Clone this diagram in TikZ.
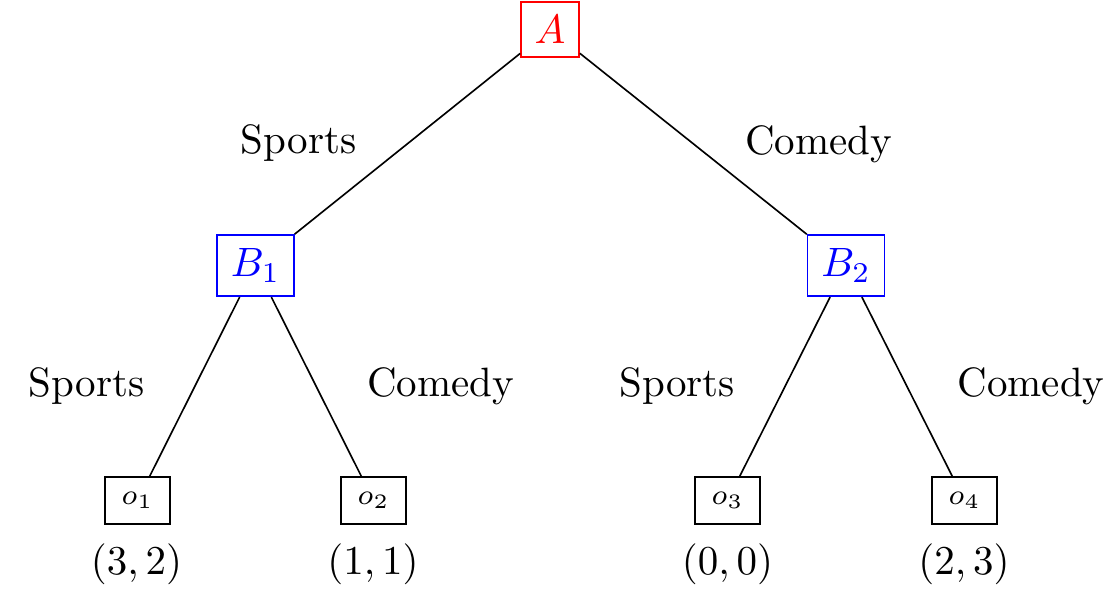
\documentclass[tikz,border=0pt]{standalone}
\begin{document}
\begin{tikzpicture}[x=0.2439pt,y=-0.2439pt,
  pbox/.style={draw=#1,text=#1,inner sep=3.33pt},
  leafbox/.style={draw,font=\scriptsize,minimum width=15.85pt,minimum height=11.46pt,inner sep=0pt},
  lbl/.style={anchor=base,inner sep=0pt},
  edge/.style={draw,line width=0.4pt}]
\useasboundingbox (0,0) rectangle (1119,595);
\node[pbox=red] (A) at (550,29.5) {$A$};
\node[pbox=blue] (B1) at (255.5,265.5) {$B_1$};
\node[pbox=blue] (B2) at (846,265.5) {$B_2$};
\node[leafbox] (o1) at (137.5,500.5) {$o_1$};
\node[leafbox] (o2) at (373.5,500.5) {$o_2$};
\node[leafbox] (o3) at (727.5,500.5) {$o_3$};
\node[leafbox] (o4) at (964.5,500.5) {$o_4$};
\path[edge] (A) -- (B1);
\path[edge] (A) -- (B2);
\path[edge] (B1) -- (o1);
\path[edge] (B1) -- (o2);
\path[edge] (B2) -- (o3);
\path[edge] (B2) -- (o4);
\node[lbl] (l1) at (298.5,153.5) {Sports};
\node[lbl] (l2) at (818.5,154) {Comedy};
\node[lbl] (l3) at (86.5,396) {Sports};
\node[lbl] (l4) at (440.5,396) {Comedy};
\node[lbl] (l5) at (677,396) {Sports};
\node[lbl] (l6) at (1031,396) {Comedy};
\node[lbl] (p1) at (136.5,574) {$(3,2)$};
\node[lbl] (p2) at (373,574) {$(1,1)$};
\node[lbl] (p3) at (727.5,574) {$(0,0)$};
\node[lbl] (p4) at (964,574) {$(2,3)$};
\end{tikzpicture}
\end{document}
